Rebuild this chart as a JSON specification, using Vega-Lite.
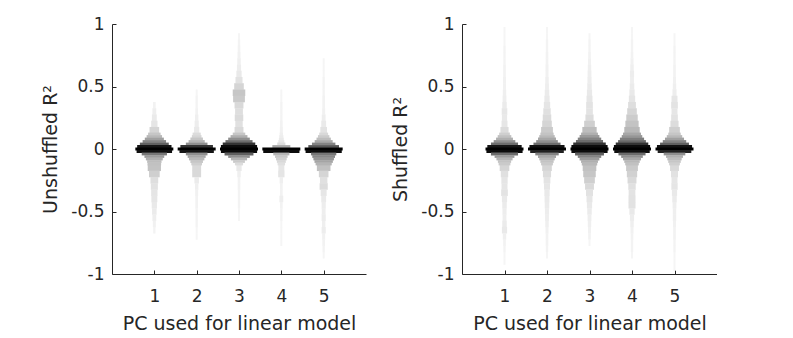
{
"$schema": "https://vega.github.io/schema/vega-lite/v6.json",
"background": "white",
"padding": {"left": 41, "top": 15, "right": 0, "bottom": 0},
"spacing": 25,
"datasets": {
"uc": [
{"pc":1,"y":0.12,"d":0.3},{"pc":1,"y":0.1,"d":0.38},{"pc":1,"y":0.08,"d":0.48},{"pc":1,"y":0.06,"d":0.6},{"pc":1,"y":0.04,"d":0.75},{"pc":1,"y":0.02,"d":0.9},{"pc":1,"y":0,"d":1},{"pc":1,"y":-0.02,"d":0.93},{"pc":1,"y":-0.04,"d":0.65},{"pc":1,"y":-0.06,"d":0.5},{"pc":1,"y":-0.08,"d":0.42},{"pc":1,"y":-0.1,"d":0.35},{"pc":1,"y":-0.12,"d":0.33},
{"pc":2,"y":0.12,"d":0.18},{"pc":2,"y":0.1,"d":0.22},{"pc":2,"y":0.08,"d":0.3},{"pc":2,"y":0.06,"d":0.4},{"pc":2,"y":0.04,"d":0.55},{"pc":2,"y":0.02,"d":0.85},{"pc":2,"y":0,"d":1},{"pc":2,"y":-0.02,"d":0.9},{"pc":2,"y":-0.04,"d":0.55},{"pc":2,"y":-0.06,"d":0.45},{"pc":2,"y":-0.08,"d":0.38},{"pc":2,"y":-0.1,"d":0.3},{"pc":2,"y":-0.12,"d":0.25},
{"pc":3,"y":0.12,"d":0.3},{"pc":3,"y":0.1,"d":0.42},{"pc":3,"y":0.08,"d":0.55},{"pc":3,"y":0.06,"d":0.7},{"pc":3,"y":0.04,"d":0.85},{"pc":3,"y":0.02,"d":0.95},{"pc":3,"y":0,"d":1},{"pc":3,"y":-0.02,"d":0.95},{"pc":3,"y":-0.04,"d":0.75},{"pc":3,"y":-0.06,"d":0.55},{"pc":3,"y":-0.08,"d":0.4},{"pc":3,"y":-0.1,"d":0.28},{"pc":3,"y":-0.12,"d":0.18},
{"pc":4,"y":0.12,"d":0.05},{"pc":4,"y":0.1,"d":0.07},{"pc":4,"y":0.08,"d":0.09},{"pc":4,"y":0.06,"d":0.12},{"pc":4,"y":0.04,"d":0.18},{"pc":4,"y":0.02,"d":0.45},{"pc":4,"y":0,"d":1},{"pc":4,"y":-0.02,"d":0.95},{"pc":4,"y":-0.04,"d":0.4},{"pc":4,"y":-0.06,"d":0.3},{"pc":4,"y":-0.08,"d":0.25},{"pc":4,"y":-0.1,"d":0.2},{"pc":4,"y":-0.12,"d":0.16},
{"pc":5,"y":0.12,"d":0.2},{"pc":5,"y":0.1,"d":0.27},{"pc":5,"y":0.08,"d":0.35},{"pc":5,"y":0.06,"d":0.45},{"pc":5,"y":0.04,"d":0.6},{"pc":5,"y":0.02,"d":0.8},{"pc":5,"y":0,"d":1},{"pc":5,"y":-0.02,"d":0.95},{"pc":5,"y":-0.04,"d":0.65},{"pc":5,"y":-0.06,"d":0.58},{"pc":5,"y":-0.08,"d":0.52},{"pc":5,"y":-0.1,"d":0.46},{"pc":5,"y":-0.12,"d":0.4}
],
"ut": [
{"pc":1,"y":0.35,"d":0.03},{"pc":1,"y":0.3,"d":0.06},{"pc":1,"y":0.25,"d":0.09},{"pc":1,"y":0.2,"d":0.13},{"pc":1,"y":0.15,"d":0.22},{"pc":1,"y":-0.15,"d":0.32},{"pc":1,"y":-0.2,"d":0.25},{"pc":1,"y":-0.25,"d":0.17},{"pc":1,"y":-0.3,"d":0.15},{"pc":1,"y":-0.35,"d":0.13},{"pc":1,"y":-0.4,"d":0.12},{"pc":1,"y":-0.45,"d":0.1},{"pc":1,"y":-0.5,"d":0.08},{"pc":1,"y":-0.55,"d":0.06},{"pc":1,"y":-0.6,"d":0.04},{"pc":1,"y":-0.65,"d":0.02},
{"pc":2,"y":0.45,"d":0.01},{"pc":2,"y":0.4,"d":0.02},{"pc":2,"y":0.35,"d":0.02},{"pc":2,"y":0.3,"d":0.03},{"pc":2,"y":0.25,"d":0.05},{"pc":2,"y":0.2,"d":0.07},{"pc":2,"y":0.15,"d":0.1},{"pc":2,"y":-0.15,"d":0.2},{"pc":2,"y":-0.2,"d":0.2},{"pc":2,"y":-0.25,"d":0.08},{"pc":2,"y":-0.3,"d":0.05},{"pc":2,"y":-0.35,"d":0.04},{"pc":2,"y":-0.4,"d":0.03},{"pc":2,"y":-0.45,"d":0.03},{"pc":2,"y":-0.5,"d":0.02},{"pc":2,"y":-0.55,"d":0.02},{"pc":2,"y":-0.6,"d":0.02},{"pc":2,"y":-0.65,"d":0.01},{"pc":2,"y":-0.7,"d":0.01},
{"pc":3,"y":0.9,"d":0.01},{"pc":3,"y":0.85,"d":0.02},{"pc":3,"y":0.8,"d":0.03},{"pc":3,"y":0.75,"d":0.04},{"pc":3,"y":0.7,"d":0.05},{"pc":3,"y":0.65,"d":0.07},{"pc":3,"y":0.6,"d":0.1},{"pc":3,"y":0.55,"d":0.15},{"pc":3,"y":0.5,"d":0.22},{"pc":3,"y":0.45,"d":0.3},{"pc":3,"y":0.4,"d":0.28},{"pc":3,"y":0.35,"d":0.2},{"pc":3,"y":0.3,"d":0.17},{"pc":3,"y":0.25,"d":0.19},{"pc":3,"y":0.2,"d":0.16},{"pc":3,"y":0.15,"d":0.2},{"pc":3,"y":-0.15,"d":0.1},{"pc":3,"y":-0.2,"d":0.05},{"pc":3,"y":-0.25,"d":0.03},{"pc":3,"y":-0.3,"d":0.03},{"pc":3,"y":-0.35,"d":0.02},{"pc":3,"y":-0.4,"d":0.02},{"pc":3,"y":-0.45,"d":0.02},{"pc":3,"y":-0.5,"d":0.01},{"pc":3,"y":-0.55,"d":0.01},
{"pc":4,"y":0.45,"d":0.01},{"pc":4,"y":0.4,"d":0.01},{"pc":4,"y":0.35,"d":0.02},{"pc":4,"y":0.3,"d":0.02},{"pc":4,"y":0.25,"d":0.02},{"pc":4,"y":0.2,"d":0.03},{"pc":4,"y":0.15,"d":0.04},{"pc":4,"y":-0.15,"d":0.12},{"pc":4,"y":-0.2,"d":0.13},{"pc":4,"y":-0.25,"d":0.05},{"pc":4,"y":-0.3,"d":0.03},{"pc":4,"y":-0.35,"d":0.03},{"pc":4,"y":-0.4,"d":0.06},{"pc":4,"y":-0.45,"d":0.03},{"pc":4,"y":-0.5,"d":0.02},{"pc":4,"y":-0.55,"d":0.02},{"pc":4,"y":-0.6,"d":0.01},{"pc":4,"y":-0.65,"d":0.01},{"pc":4,"y":-0.7,"d":0.01},{"pc":4,"y":-0.75,"d":0.01},
{"pc":5,"y":0.7,"d":0.01},{"pc":5,"y":0.65,"d":0.01},{"pc":5,"y":0.6,"d":0.01},{"pc":5,"y":0.55,"d":0.02},{"pc":5,"y":0.5,"d":0.02},{"pc":5,"y":0.45,"d":0.02},{"pc":5,"y":0.4,"d":0.03},{"pc":5,"y":0.35,"d":0.03},{"pc":5,"y":0.3,"d":0.04},{"pc":5,"y":0.25,"d":0.06},{"pc":5,"y":0.2,"d":0.09},{"pc":5,"y":0.15,"d":0.14},{"pc":5,"y":-0.15,"d":0.33},{"pc":5,"y":-0.2,"d":0.22},{"pc":5,"y":-0.25,"d":0.16},{"pc":5,"y":-0.3,"d":0.18},{"pc":5,"y":-0.35,"d":0.12},{"pc":5,"y":-0.4,"d":0.09},{"pc":5,"y":-0.45,"d":0.07},{"pc":5,"y":-0.5,"d":0.06},{"pc":5,"y":-0.55,"d":0.07},{"pc":5,"y":-0.6,"d":0.05},{"pc":5,"y":-0.65,"d":0.07},{"pc":5,"y":-0.7,"d":0.04},{"pc":5,"y":-0.75,"d":0.03},{"pc":5,"y":-0.8,"d":0.02},{"pc":5,"y":-0.85,"d":0.01}
],
"sc": [
{"pc":1,"y":0.12,"d":0.25},{"pc":1,"y":0.1,"d":0.33},{"pc":1,"y":0.08,"d":0.42},{"pc":1,"y":0.06,"d":0.55},{"pc":1,"y":0.04,"d":0.7},{"pc":1,"y":0.02,"d":0.9},{"pc":1,"y":0,"d":1},{"pc":1,"y":-0.02,"d":0.95},{"pc":1,"y":-0.04,"d":0.7},{"pc":1,"y":-0.06,"d":0.5},{"pc":1,"y":-0.08,"d":0.4},{"pc":1,"y":-0.1,"d":0.32},{"pc":1,"y":-0.12,"d":0.28},
{"pc":2,"y":0.12,"d":0.32},{"pc":2,"y":0.1,"d":0.38},{"pc":2,"y":0.08,"d":0.45},{"pc":2,"y":0.06,"d":0.55},{"pc":2,"y":0.04,"d":0.7},{"pc":2,"y":0.02,"d":0.92},{"pc":2,"y":0,"d":1},{"pc":2,"y":-0.02,"d":0.88},{"pc":2,"y":-0.04,"d":0.6},{"pc":2,"y":-0.06,"d":0.45},{"pc":2,"y":-0.08,"d":0.38},{"pc":2,"y":-0.1,"d":0.32},{"pc":2,"y":-0.12,"d":0.28},
{"pc":3,"y":0.12,"d":0.42},{"pc":3,"y":0.1,"d":0.5},{"pc":3,"y":0.08,"d":0.6},{"pc":3,"y":0.06,"d":0.7},{"pc":3,"y":0.04,"d":0.85},{"pc":3,"y":0.02,"d":0.95},{"pc":3,"y":0,"d":1},{"pc":3,"y":-0.02,"d":0.95},{"pc":3,"y":-0.04,"d":0.75},{"pc":3,"y":-0.06,"d":0.6},{"pc":3,"y":-0.08,"d":0.5},{"pc":3,"y":-0.1,"d":0.42},{"pc":3,"y":-0.12,"d":0.38},
{"pc":4,"y":0.12,"d":0.45},{"pc":4,"y":0.1,"d":0.52},{"pc":4,"y":0.08,"d":0.62},{"pc":4,"y":0.06,"d":0.72},{"pc":4,"y":0.04,"d":0.85},{"pc":4,"y":0.02,"d":0.95},{"pc":4,"y":0,"d":1},{"pc":4,"y":-0.02,"d":0.93},{"pc":4,"y":-0.04,"d":0.7},{"pc":4,"y":-0.06,"d":0.55},{"pc":4,"y":-0.08,"d":0.45},{"pc":4,"y":-0.1,"d":0.38},{"pc":4,"y":-0.12,"d":0.33},
{"pc":5,"y":0.12,"d":0.3},{"pc":5,"y":0.1,"d":0.38},{"pc":5,"y":0.08,"d":0.48},{"pc":5,"y":0.06,"d":0.6},{"pc":5,"y":0.04,"d":0.75},{"pc":5,"y":0.02,"d":0.92},{"pc":5,"y":0,"d":1},{"pc":5,"y":-0.02,"d":0.88},{"pc":5,"y":-0.04,"d":0.55},{"pc":5,"y":-0.06,"d":0.42},{"pc":5,"y":-0.08,"d":0.35},{"pc":5,"y":-0.1,"d":0.3},{"pc":5,"y":-0.12,"d":0.25}
],
"st": [
{"pc":1,"y":0.95,"d":0.01},{"pc":1,"y":0.9,"d":0.01},{"pc":1,"y":0.85,"d":0.01},{"pc":1,"y":0.8,"d":0.02},{"pc":1,"y":0.75,"d":0.02},{"pc":1,"y":0.7,"d":0.02},{"pc":1,"y":0.65,"d":0.03},{"pc":1,"y":0.6,"d":0.03},{"pc":1,"y":0.55,"d":0.04},{"pc":1,"y":0.5,"d":0.04},{"pc":1,"y":0.45,"d":0.05},{"pc":1,"y":0.4,"d":0.06},{"pc":1,"y":0.35,"d":0.08},{"pc":1,"y":0.3,"d":0.11},{"pc":1,"y":0.25,"d":0.1},{"pc":1,"y":0.2,"d":0.12},{"pc":1,"y":0.15,"d":0.18},{"pc":1,"y":-0.15,"d":0.22},{"pc":1,"y":-0.2,"d":0.16},{"pc":1,"y":-0.25,"d":0.13},{"pc":1,"y":-0.3,"d":0.12},{"pc":1,"y":-0.35,"d":0.14},{"pc":1,"y":-0.4,"d":0.1},{"pc":1,"y":-0.45,"d":0.08},{"pc":1,"y":-0.5,"d":0.07},{"pc":1,"y":-0.55,"d":0.06},{"pc":1,"y":-0.6,"d":0.08},{"pc":1,"y":-0.65,"d":0.1},{"pc":1,"y":-0.7,"d":0.05},{"pc":1,"y":-0.75,"d":0.03},{"pc":1,"y":-0.8,"d":0.02},{"pc":1,"y":-0.85,"d":0.01},{"pc":1,"y":-0.9,"d":0.01},
{"pc":2,"y":0.95,"d":0.01},{"pc":2,"y":0.9,"d":0.01},{"pc":2,"y":0.85,"d":0.02},{"pc":2,"y":0.8,"d":0.02},{"pc":2,"y":0.75,"d":0.03},{"pc":2,"y":0.7,"d":0.03},{"pc":2,"y":0.65,"d":0.04},{"pc":2,"y":0.6,"d":0.04},{"pc":2,"y":0.55,"d":0.05},{"pc":2,"y":0.5,"d":0.06},{"pc":2,"y":0.45,"d":0.08},{"pc":2,"y":0.4,"d":0.1},{"pc":2,"y":0.35,"d":0.13},{"pc":2,"y":0.3,"d":0.16},{"pc":2,"y":0.25,"d":0.19},{"pc":2,"y":0.2,"d":0.22},{"pc":2,"y":0.15,"d":0.28},{"pc":2,"y":-0.15,"d":0.22},{"pc":2,"y":-0.2,"d":0.18},{"pc":2,"y":-0.25,"d":0.14},{"pc":2,"y":-0.3,"d":0.12},{"pc":2,"y":-0.35,"d":0.1},{"pc":2,"y":-0.4,"d":0.09},{"pc":2,"y":-0.45,"d":0.08},{"pc":2,"y":-0.5,"d":0.07},{"pc":2,"y":-0.55,"d":0.06},{"pc":2,"y":-0.6,"d":0.05},{"pc":2,"y":-0.65,"d":0.04},{"pc":2,"y":-0.7,"d":0.03},{"pc":2,"y":-0.75,"d":0.03},{"pc":2,"y":-0.8,"d":0.02},{"pc":2,"y":-0.85,"d":0.01},
{"pc":3,"y":0.9,"d":0.01},{"pc":3,"y":0.85,"d":0.02},{"pc":3,"y":0.8,"d":0.02},{"pc":3,"y":0.75,"d":0.03},{"pc":3,"y":0.7,"d":0.04},{"pc":3,"y":0.65,"d":0.05},{"pc":3,"y":0.6,"d":0.06},{"pc":3,"y":0.55,"d":0.07},{"pc":3,"y":0.5,"d":0.08},{"pc":3,"y":0.45,"d":0.1},{"pc":3,"y":0.4,"d":0.12},{"pc":3,"y":0.35,"d":0.14},{"pc":3,"y":0.3,"d":0.14},{"pc":3,"y":0.25,"d":0.18},{"pc":3,"y":0.2,"d":0.25},{"pc":3,"y":0.15,"d":0.35},{"pc":3,"y":-0.15,"d":0.33},{"pc":3,"y":-0.2,"d":0.3},{"pc":3,"y":-0.25,"d":0.25},{"pc":3,"y":-0.3,"d":0.2},{"pc":3,"y":-0.35,"d":0.15},{"pc":3,"y":-0.4,"d":0.12},{"pc":3,"y":-0.45,"d":0.1},{"pc":3,"y":-0.5,"d":0.08},{"pc":3,"y":-0.55,"d":0.06},{"pc":3,"y":-0.6,"d":0.05},{"pc":3,"y":-0.65,"d":0.04},{"pc":3,"y":-0.7,"d":0.03},{"pc":3,"y":-0.75,"d":0.01},
{"pc":4,"y":0.95,"d":0.01},{"pc":4,"y":0.9,"d":0.01},{"pc":4,"y":0.85,"d":0.02},{"pc":4,"y":0.8,"d":0.02},{"pc":4,"y":0.75,"d":0.03},{"pc":4,"y":0.7,"d":0.04},{"pc":4,"y":0.65,"d":0.05},{"pc":4,"y":0.6,"d":0.07},{"pc":4,"y":0.55,"d":0.06},{"pc":4,"y":0.5,"d":0.08},{"pc":4,"y":0.45,"d":0.1},{"pc":4,"y":0.4,"d":0.13},{"pc":4,"y":0.35,"d":0.17},{"pc":4,"y":0.3,"d":0.22},{"pc":4,"y":0.25,"d":0.27},{"pc":4,"y":0.2,"d":0.32},{"pc":4,"y":0.15,"d":0.38},{"pc":4,"y":-0.15,"d":0.28},{"pc":4,"y":-0.2,"d":0.24},{"pc":4,"y":-0.25,"d":0.2},{"pc":4,"y":-0.3,"d":0.16},{"pc":4,"y":-0.35,"d":0.14},{"pc":4,"y":-0.4,"d":0.15},{"pc":4,"y":-0.45,"d":0.15},{"pc":4,"y":-0.5,"d":0.1},{"pc":4,"y":-0.55,"d":0.07},{"pc":4,"y":-0.6,"d":0.05},{"pc":4,"y":-0.65,"d":0.04},{"pc":4,"y":-0.7,"d":0.03},{"pc":4,"y":-0.75,"d":0.02},{"pc":4,"y":-0.8,"d":0.02},{"pc":4,"y":-0.85,"d":0.01},
{"pc":5,"y":0.9,"d":0.01},{"pc":5,"y":0.85,"d":0.01},{"pc":5,"y":0.8,"d":0.02},{"pc":5,"y":0.75,"d":0.02},{"pc":5,"y":0.7,"d":0.02},{"pc":5,"y":0.65,"d":0.03},{"pc":5,"y":0.6,"d":0.03},{"pc":5,"y":0.55,"d":0.04},{"pc":5,"y":0.5,"d":0.05},{"pc":5,"y":0.45,"d":0.07},{"pc":5,"y":0.4,"d":0.12},{"pc":5,"y":0.35,"d":0.14},{"pc":5,"y":0.3,"d":0.12},{"pc":5,"y":0.25,"d":0.14},{"pc":5,"y":0.2,"d":0.18},{"pc":5,"y":0.15,"d":0.25},{"pc":5,"y":-0.15,"d":0.2},{"pc":5,"y":-0.2,"d":0.15},{"pc":5,"y":-0.25,"d":0.12},{"pc":5,"y":-0.3,"d":0.13},{"pc":5,"y":-0.35,"d":0.1},{"pc":5,"y":-0.4,"d":0.08},{"pc":5,"y":-0.45,"d":0.06},{"pc":5,"y":-0.5,"d":0.05},{"pc":5,"y":-0.55,"d":0.05},{"pc":5,"y":-0.6,"d":0.04},{"pc":5,"y":-0.65,"d":0.03},{"pc":5,"y":-0.7,"d":0.03},{"pc":5,"y":-0.75,"d":0.02},{"pc":5,"y":-0.8,"d":0.02},{"pc":5,"y":-0.85,"d":0.01},{"pc":5,"y":-0.9,"d":0.01},{"pc":5,"y":-0.95,"d":0.01}
]
},
"hconcat": [
{
"width": 254, "height": 250,
"layer": [
{"data": {"name": "ut"}, "mark": {"type": "tick", "orient": "horizontal", "thickness": 6.6, "opacity": 1},
"encoding": {
"x": {"field": "pc", "type": "quantitative", "scale": {"domain": [0, 6], "nice": false}, "axis": {"values": [1,2,3,4,5], "title": "PC used for linear model"}},
"y": {"field": "y", "type": "quantitative", "scale": {"domain": [-1, 1], "nice": false}, "axis": {"values": [-1,-0.5,0,0.5,1], "labelExpr": "'' + datum.value", "title": "Unshuffled R²"}},
"size": {"field": "d", "type": "quantitative", "scale": {"domain": [0, 1], "range": [1.6, 38], "zero": false}, "legend": null},
"color": {"field": "d", "type": "quantitative", "scale": {"domain": [0, 0.15, 0.4, 0.8, 0.9, 1], "range": ["#f6f6f6", "#e2e2e2", "#b4b4b4", "#555555", "#151515", "#000000"]}, "legend": null}}},
{"data": {"name": "uc"}, "mark": {"type": "tick", "orient": "horizontal", "thickness": 2.8, "opacity": 1},
"encoding": {
"x": {"field": "pc", "type": "quantitative", "scale": {"domain": [0, 6], "nice": false}, "axis": {"values": [1,2,3,4,5], "title": "PC used for linear model"}},
"y": {"field": "y", "type": "quantitative", "scale": {"domain": [-1, 1], "nice": false}, "axis": {"values": [-1,-0.5,0,0.5,1], "labelExpr": "'' + datum.value", "title": "Unshuffled R²"}},
"size": {"field": "d", "type": "quantitative", "scale": {"domain": [0, 1], "range": [1.6, 38], "zero": false}, "legend": null},
"color": {"field": "d", "type": "quantitative", "scale": {"domain": [0, 0.15, 0.4, 0.8, 0.9, 1], "range": ["#f6f6f6", "#e2e2e2", "#b4b4b4", "#555555", "#151515", "#000000"]}, "legend": null}}}
]
},
{
"width": 255, "height": 250,
"layer": [
{"data": {"name": "st"}, "mark": {"type": "tick", "orient": "horizontal", "thickness": 6.6, "opacity": 1},
"encoding": {
"x": {"field": "pc", "type": "quantitative", "scale": {"domain": [0, 6], "nice": false}, "axis": {"values": [1,2,3,4,5], "title": "PC used for linear model"}},
"y": {"field": "y", "type": "quantitative", "scale": {"domain": [-1, 1], "nice": false}, "axis": {"values": [-1,-0.5,0,0.5,1], "labelExpr": "'' + datum.value", "title": "Shuffled R²"}},
"size": {"field": "d", "type": "quantitative", "scale": {"domain": [0, 1], "range": [1.6, 38], "zero": false}, "legend": null},
"color": {"field": "d", "type": "quantitative", "scale": {"domain": [0, 0.15, 0.4, 0.8, 0.9, 1], "range": ["#f6f6f6", "#e2e2e2", "#b4b4b4", "#555555", "#151515", "#000000"]}, "legend": null}}},
{"data": {"name": "sc"}, "mark": {"type": "tick", "orient": "horizontal", "thickness": 2.8, "opacity": 1},
"encoding": {
"x": {"field": "pc", "type": "quantitative", "scale": {"domain": [0, 6], "nice": false}, "axis": {"values": [1,2,3,4,5], "title": "PC used for linear model"}},
"y": {"field": "y", "type": "quantitative", "scale": {"domain": [-1, 1], "nice": false}, "axis": {"values": [-1,-0.5,0,0.5,1], "labelExpr": "'' + datum.value", "title": "Shuffled R²"}},
"size": {"field": "d", "type": "quantitative", "scale": {"domain": [0, 1], "range": [1.6, 38], "zero": false}, "legend": null},
"color": {"field": "d", "type": "quantitative", "scale": {"domain": [0, 0.15, 0.4, 0.8, 0.9, 1], "range": ["#f6f6f6", "#e2e2e2", "#b4b4b4", "#555555", "#151515", "#000000"]}, "legend": null}}}
]
}
],
"config": {
"view": {"stroke": null},
"font": "DejaVu Sans",
"axis": {"grid": false, "domainColor": "#262626", "domainWidth": 1, "tickColor": "#262626", "tickSize": -4, "labelColor": "#262626", "titleColor": "#262626", "labelFont": "DejaVu Sans", "titleFont": "DejaVu Sans", "labelFontSize": 17, "titleFontSize": 19, "titleFontWeight": "normal", "labelFlush": false, "labelOverlap": false},
"axisX": {"labelPadding": 18, "titlePadding": 10},
"axisY": {"labelPadding": 12, "titlePadding": 10}
}
}
